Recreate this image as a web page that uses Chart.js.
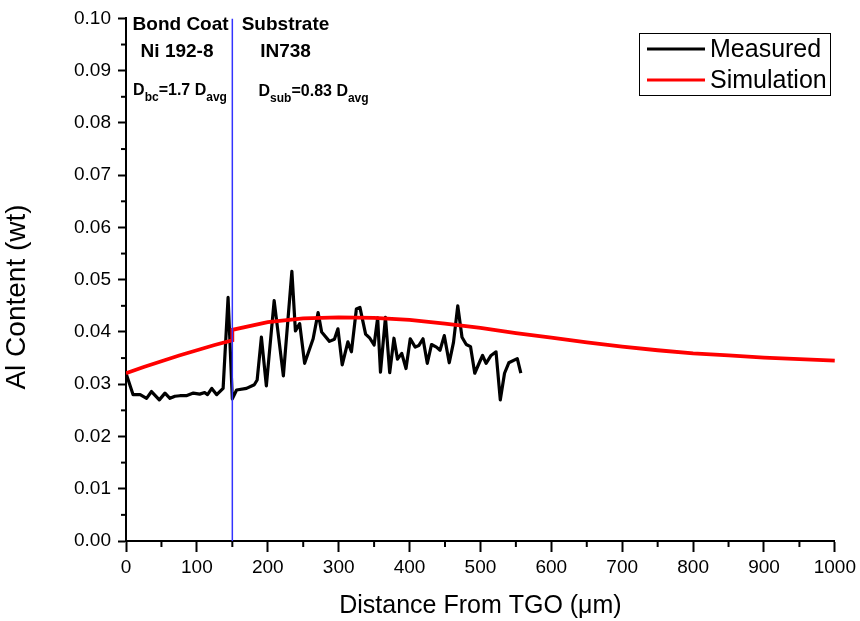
<!DOCTYPE html>
<html>
<head>
<meta charset="utf-8">
<script src="https://cdn.jsdelivr.net/npm/chart.js@4"></script>
<style>
  html, body { margin: 0; padding: 0; background: #fff; }
  #wrap { width: 860px; height: 621px; position: relative; }
</style>
</head>
<body>
<div id="wrap"><canvas id="alChart"></canvas></div>
<script>
// measured Al profile (distance in um, Al content in wt fraction)
const measuredX = [0, 10, 20, 29, 36, 47, 55, 62, 69, 76, 85, 95, 104, 111, 115, 121, 128, 137, 144, 150,
    156, 170, 181, 185, 191, 198, 209, 222, 234, 239, 245, 252, 264, 271, 276, 287, 294, 299, 305, 313,
    318, 325, 330, 338, 344, 350, 355, 359, 366, 372, 378, 383, 389, 395, 401, 408, 413, 419, 425, 431,
    438, 443, 449, 456, 462, 468, 474, 480, 486, 492, 499, 503, 508, 515, 522, 528, 534, 540, 552, 557];
const measuredY = [0.0321, 0.0280, 0.0280, 0.0273, 0.0286, 0.0270, 0.0283, 0.0273, 0.0277, 0.0278, 0.0278, 0.0283, 0.0281, 0.0284, 0.0280, 0.0292, 0.0280, 0.0292, 0.0466, 0.0272,
    0.0289, 0.0292, 0.0299, 0.0308, 0.0390, 0.0297, 0.0460, 0.0316, 0.0516, 0.0402, 0.0416, 0.0340, 0.0387, 0.0437, 0.0400, 0.0382, 0.0386, 0.0406, 0.0337, 0.0381,
    0.0362, 0.0444, 0.0447, 0.0396, 0.0388, 0.0375, 0.0427, 0.0323, 0.0428, 0.0322, 0.0388, 0.0348, 0.0359, 0.0330, 0.0387, 0.0371, 0.0374, 0.0387, 0.0340, 0.0376,
    0.0371, 0.0365, 0.0393, 0.0341, 0.0380, 0.0450, 0.0390, 0.0376, 0.0372, 0.0321, 0.0343, 0.0355, 0.0340, 0.0355, 0.0362, 0.0270, 0.0321, 0.0341, 0.0349, 0.0321];

// simulated profile, jump at the bond coat / substrate interface
const simX = [0, 25, 50, 75, 100, 125, 150, 150, 200, 250, 300, 350, 400, 450, 500, 550, 600, 650, 700, 750, 800, 850, 900, 950, 1000];
const simY = [0.0321, 0.0333, 0.0344, 0.0355, 0.0365, 0.0375, 0.0384, 0.0404, 0.0419, 0.0426, 0.0428, 0.0427, 0.0423, 0.0416, 0.0408, 0.0398, 0.0389, 0.0380, 0.0372, 0.0365, 0.0359, 0.0355, 0.0351, 0.0348, 0.0345];

const interfaceX = 150;
const xTicks = [0, 100, 200, 300, 400, 500, 600, 700, 800, 900, 1000];
const yTicks = [0, 0.01, 0.02, 0.03, 0.04, 0.05, 0.06, 0.07, 0.08, 0.09, 0.10];

const FONT = '"Liberation Sans", Arial, sans-serif';

const toPoints = (xs, ys) => xs.map((x, i) => ({ x: x, y: ys[i] }));

// minor ticks, y title, region labels and the boxed legend
const extras = {
    id: 'extras',
    afterDraw(chart) {
        const ctx = chart.ctx;
        const xs = chart.scales.x, ys = chart.scales.y;
        const area = chart.chartArea;
        ctx.save();
        ctx.strokeStyle = '#000';
        ctx.lineWidth = 2;
        for (let i = 0; i < xTicks.length - 1; i++) {
            const px = xs.getPixelForValue((xTicks[i] + xTicks[i + 1]) / 2);
            ctx.beginPath();
            ctx.moveTo(px, area.bottom);
            ctx.lineTo(px, area.bottom + 6);
            ctx.stroke();
        }
        for (let i = 0; i < yTicks.length - 1; i++) {
            const py = ys.getPixelForValue((yTicks[i] + yTicks[i + 1]) / 2);
            ctx.beginPath();
            ctx.moveTo(area.left, py);
            ctx.lineTo(area.left - 5, py);
            ctx.stroke();
        }

        // y axis title
        ctx.fillStyle = '#000';
        ctx.textAlign = 'center';
        ctx.textBaseline = 'middle';
        ctx.save();
        ctx.translate(17, 297);
        ctx.rotate(-Math.PI / 2);
        ctx.font = '28px ' + FONT;
        ctx.fillText('Al Content (wt)', 0, 0);
        ctx.restore();

        // region labels
        ctx.font = 'bold 19px ' + FONT;
        ctx.fillText('Bond Coat', xs.getPixelForValue(77), 25);
        ctx.fillText('Ni 192-8', xs.getPixelForValue(72), 52);
        ctx.fillText('Substrate', xs.getPixelForValue(225), 25);
        ctx.fillText('IN738', xs.getPixelForValue(225), 52);

        const sub = (parts, x, y) => {
            ctx.textAlign = 'left';
            let cx = x;
            parts.forEach(p => {
                ctx.font = (p[1] ? 'bold 12px ' : 'bold 16px ') + FONT;
                ctx.fillText(p[0], cx, p[1] ? y + 7 : y);
                cx += ctx.measureText(p[0]).width;
            });
        };
        sub([['D', 0], ['bc', 1], ['=1.7 D', 0], ['avg', 1]], xs.getPixelForValue(10), 91);
        sub([['D', 0], ['sub', 1], ['=0.83 D', 0], ['avg', 1]], xs.getPixelForValue(187), 92);

        // legend box
        const bx = 639, by = 33, bw = 191, bh = 62;
        ctx.lineWidth = 1;
        ctx.strokeStyle = '#000';
        ctx.strokeRect(bx + 0.5, by + 0.5, bw, bh);
        ctx.font = '25px ' + FONT;
        ctx.textAlign = 'left';
        [0, 1].forEach(i => {
            const ds = chart.data.datasets[i];
            const ly = by + 16 + i * 31;
            ctx.strokeStyle = ds.borderColor;
            ctx.lineWidth = 3;
            ctx.beginPath();
            ctx.moveTo(bx + 8, ly);
            ctx.lineTo(bx + 66, ly);
            ctx.stroke();
            ctx.fillStyle = '#000';
            ctx.fillText(ds.label, bx + 71, ly + 1);
        });
        ctx.restore();
    }
};

new Chart(document.getElementById('alChart'), {
    type: 'scatter',
    data: {
        datasets: [{
            label: 'Measured',
            data: toPoints(measuredX, measuredY),
            showLine: true,
            borderColor: '#000000',
            borderWidth: 3.2,
            pointRadius: 0,
            tension: 0,
            borderJoinStyle: 'round',
            order: 2
        }, {
            label: 'Simulation',
            data: toPoints(simX, simY),
            showLine: true,
            borderColor: '#ff0000',
            borderWidth: 3.8,
            pointRadius: 0,
            tension: 0,
            order: 1
        }, {
            label: 'interface',
            data: [{ x: interfaceX, y: 0 }, { x: interfaceX, y: 0.1 }],
            showLine: true,
            borderColor: '#3333ff',
            borderWidth: 1.5,
            pointRadius: 0,
            order: 0
        }]
    },
    options: {
        responsive: true,
        maintainAspectRatio: false,
        animation: false,
        layout: { padding: { top: 13, right: 24, left: 0, bottom: 0 } },
        plugins: {
            legend: { display: false },
            tooltip: { enabled: false }
        },
        scales: {
            x: {
                type: 'linear',
                min: 0,
                max: 1000,
                afterFit: s => { s.height = 80; },
                ticks: {
                    stepSize: 100,
                    color: '#000',
                    padding: 4,
                    maxRotation: 0,
                    font: { family: FONT, size: 19 },
                    callback: v => String(v)
                },
                grid: { drawOnChartArea: false, color: '#000', tickLength: 11, tickWidth: 2 },
                border: { color: '#000', width: 2 },
                title: {
                    display: true,
                    text: 'Distance From TGO (\u03bcm)',
                    color: '#000',
                    font: { family: FONT, size: 25 },
                    padding: { top: 0, bottom: 0 }
                }
            },
            y: {
                min: 0,
                max: 0.1,
                afterFit: s => { s.width = 126; },
                ticks: {
                    stepSize: 0.01,
                    color: '#000',
                    padding: 7,
                    font: { family: FONT, size: 19 },
                    callback: v => v.toFixed(2)
                },
                grid: { drawOnChartArea: false, color: '#000', tickLength: 8, tickWidth: 2 },
                border: { color: '#000', width: 2 }
            }
        }
    },
    plugins: [extras]
});
</script>
</body>
</html>
